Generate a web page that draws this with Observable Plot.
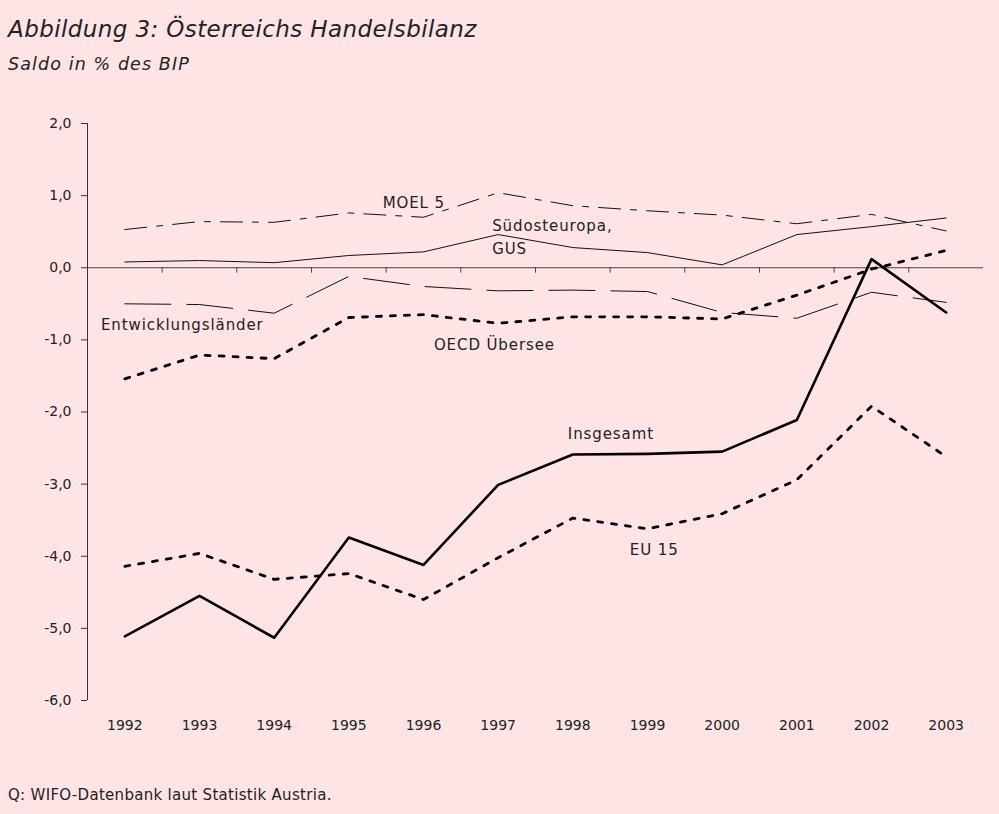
<!DOCTYPE html>
<html>
<head>
<meta charset="utf-8">
<script src="https://cdn.jsdelivr.net/npm/d3@7"></script>
<script src="https://cdn.jsdelivr.net/npm/@observablehq/plot@0.6"></script>
<style>
  html, body { margin: 0; padding: 0; }
  body { width: 999px; height: 814px; overflow: hidden; background: #ffe4e6; position: relative;
         font-family: "DejaVu Sans", "Noto Sans", sans-serif; color: #222; }
  #title { position: absolute; left: 8px; top: 16px; font-size: 23px; font-style: italic; letter-spacing: 0.4px; }
  #subtitle { position: absolute; left: 8px; top: 54px; font-size: 17.5px; font-style: italic; letter-spacing: 1.1px; }
  #chart { position: absolute; left: 0; top: 90px; }
  #caption { position: absolute; left: 8px; top: 786px; font-size: 15px; letter-spacing: 0.3px; }
  #chart g[aria-label="text"] text { letter-spacing: 0.9px; }
</style>
</head>
<body>
<div id="title">Abbildung 3: Österreichs Handelsbilanz</div>
<div id="subtitle">Saldo in % des BIP</div>
<div id="chart"></div>
<div id="caption">Q: WIFO-Datenbank laut Statistik Austria.</div>
<script>
const years = [1992, 1993, 1994, 1995, 1996, 1997, 1998, 1999, 2000, 2001, 2002, 2003];
const insgesamt = [-5.11, -4.55, -5.13, -3.74, -4.12, -3.01, -2.59, -2.58, -2.55, -2.11, 0.12, -0.62];
const eu15 = [-4.14, -3.96, -4.32, -4.24, -4.60, -4.02, -3.47, -3.62, -3.41, -2.94, -1.92, -2.62];
const oecdUebersee = [-1.54, -1.21, -1.26, -0.69, -0.65, -0.77, -0.68, -0.68, -0.71, -0.38, -0.02, 0.24];
const moel5 = [0.53, 0.64, 0.63, 0.76, 0.70, 1.04, 0.86, 0.79, 0.73, 0.61, 0.74, 0.51];
const suedosteuropaGus = [0.08, 0.10, 0.07, 0.17, 0.22, 0.46, 0.28, 0.21, 0.04, 0.46, 0.57, 0.69];
const entwicklungslaender = [-0.50, -0.51, -0.63, -0.12, -0.26, -0.32, -0.31, -0.33, -0.62, -0.70, -0.34, -0.48];
const yTicks = [2, 1, 0, -1, -2, -3, -4, -5, -6];
const categoryBounds = [1992.5, 1993.5, 1994.5, 1995.5, 1996.5, 1997.5, 1998.5, 1999.5, 2000.5, 2001.5, 2002.5];

// series labels placed in data coordinates (year, value)
const labelsMiddle = [
  {text: "MOEL 5", x: 1995.87, y: 0.89},
  {text: "OECD Übersee", x: 1996.95, y: -1.07},
  {text: "Insgesamt", x: 1998.51, y: -2.31},
  {text: "EU 15", x: 1999.09, y: -3.92}
];
const labelsStart = [
  {text: "Südosteuropa,", x: 1996.92, y: 0.58},
  {text: "GUS", x: 1996.92, y: 0.26},
  {text: "Entwicklungsländer", x: 1991.68, y: -0.80}
];

const rows = (vals) => years.map((yr, i) => ({year: yr, value: vals[i]}));
const fmt = d => d.toFixed(1).replace(".", ",");

const chart = Plot.plot({
  width: 999,
  height: 670,
  marginLeft: 87,
  marginRight: 16,
  marginTop: 33,
  marginBottom: 60,
  x: {domain: [1991.5, 2003.5], axis: null},
  y: {domain: [-6, 2], axis: null},
  style: {background: "transparent", fontFamily: "DejaVu Sans, sans-serif", fontSize: "14px", color: "#222"},
  marks: [
    Plot.ruleX([1991.5], {y1: -6, y2: 2, stroke: "#333", strokeWidth: 1}),
    Plot.ruleY([0], {stroke: "#444", strokeWidth: 1.2}),
    Plot.ruleX(categoryBounds, {y1: 0, y2: -0.075, stroke: "#444", strokeWidth: 1}),
    Plot.axisY(yTicks, {anchor: "left", tickSize: 6, tickPadding: 10, tickFormat: fmt, label: null,
      fontSize: 14, stroke: "#333"}),
    Plot.axisX(years, {anchor: "bottom", tickSize: 0, tickPadding: 20, tickFormat: d => String(d), label: null,
      fontSize: 14}),
    Plot.line(rows(entwicklungslaender), {x: "year", y: "value", stroke: "#111", strokeWidth: 1, strokeDasharray: "46,16"}),
    Plot.line(rows(suedosteuropaGus), {x: "year", y: "value", stroke: "#111", strokeWidth: 1}),
    Plot.line(rows(moel5), {x: "year", y: "value", stroke: "#111", strokeWidth: 1, strokeDasharray: "22,10,6,10"}),
    Plot.line(rows(oecdUebersee), {x: "year", y: "value", stroke: "#000", strokeWidth: 2.8, strokeDasharray: "5,9"}),
    Plot.line(rows(eu15), {x: "year", y: "value", stroke: "#000", strokeWidth: 2.8, strokeDasharray: "5,9"}),
    Plot.line(rows(insgesamt), {x: "year", y: "value", stroke: "#000", strokeWidth: 2.6}),
    Plot.text(labelsMiddle, {x: "x", y: "y", text: "text", textAnchor: "middle", fill: "#222", fontSize: 15}),
    Plot.text(labelsStart, {x: "x", y: "y", text: "text", textAnchor: "start", fill: "#222", fontSize: 15})
  ]
});
document.getElementById("chart").appendChild(chart);
</script>
</body>
</html>
